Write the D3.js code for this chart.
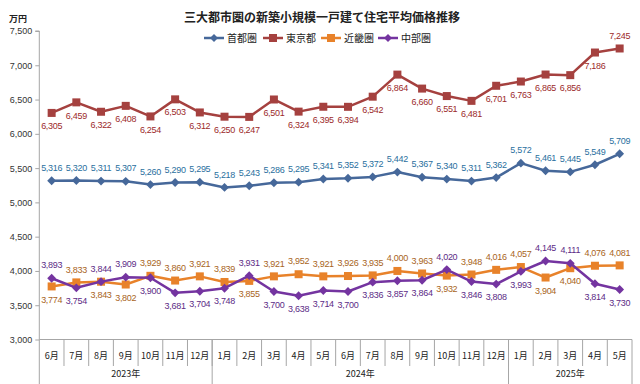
<!DOCTYPE html>
<html><head><meta charset="utf-8">
<script src="https://cdn.jsdelivr.net/npm/d3@7"></script>
<style>
body{margin:0;background:#fff;}
svg{display:block;font-family:"Noto Sans CJK JP","Noto Sans",sans-serif;}
</style></head>
<body>
<svg id="c" width="640" height="384"></svg>
<script>
const months = ["6月","7月","8月","9月","10月","11月","12月","1月","2月","3月","4月","5月","6月","7月","8月","9月","10月","11月","12月","1月","2月","3月","4月","5月"];
const years = [{label:"2023年", n:7},{label:"2024年", n:12},{label:"2025年", n:5}];
const yTicks = [3000,3500,4000,4500,5000,5500,6000,6500,7000,7500];
const shuto = [5316,5320,5311,5307,5260,5290,5295,5218,5243,5286,5295,5341,5352,5372,5442,5367,5340,5311,5362,5572,5461,5445,5549,5709];
const tokyo = [6305,6459,6322,6408,6254,6503,6312,6250,6247,6501,6324,6395,6394,6542,6864,6660,6551,6481,6701,6763,6865,6856,7186,7245];
const kinki = [3774,3833,3843,3802,3929,3860,3921,3839,3855,3921,3952,3921,3926,3935,4000,3963,3932,3948,4016,4057,3904,4040,4076,4081];
const chubu = [3893,3754,3844,3909,3900,3681,3704,3748,3931,3700,3638,3714,3700,3836,3857,3864,4020,3846,3808,3993,4145,4111,3814,3730];

const series = [
  {name:"首都圏", values:shuto, color:"#46689a", label:"#2a6f9e", marker:"diamond"},
  {name:"東京都", values:tokyo, color:"#a5413f", label:"#9c2a2a", marker:"square"},
  {name:"近畿圏", values:kinki, color:"#e8822a", label:"#a8641c", marker:"square"},
  {name:"中部圏", values:chubu, color:"#7434a0", label:"#5c2b86", marker:"diamond"}
];

(function(){
const svg = d3.select("#c");
const pL = 39.3, pR = 632, pT = 31, pB = 339.5;
const idx = months.map((m,i)=>i);
const x = d3.scaleBand().domain(idx).range([pL,pR]).paddingInner(0).paddingOuter(0);
const y = d3.scaleLinear().domain([3000,7500]).range([pB,pT]);
const cx = i => x(i) + x.bandwidth()/2;
const axisColor = "#a6a6a6";

svg.append("text").attr("x",322).attr("y",22).attr("text-anchor","middle")
  .attr("font-size",12).attr("font-weight","bold").attr("fill","#222")
  .text("三大都市圏の新築小規模一戸建て住宅平均価格推移");
svg.append("text").attr("x",18).attr("y",22).attr("text-anchor","middle")
  .attr("font-size",9).attr("font-weight","bold").attr("fill","#222").text("万円");

const ya = svg.append("g").attr("transform",`translate(${pL},0)`)
  .call(d3.axisLeft(y).tickValues(yTicks).tickSize(4).tickPadding(3).tickFormat(d3.format(",")));
ya.selectAll("text").attr("font-size",9).attr("fill","#333").attr("font-family","'Liberation Sans',sans-serif");
ya.selectAll("line").attr("stroke",axisColor);
ya.select(".domain").attr("stroke",axisColor).attr("d",`M-4,${pT}H0V${pB}`);

const xa = svg.append("g");
xa.append("line").attr("x1",pL).attr("x2",pR).attr("y1",pB).attr("y2",pB).attr("stroke",axisColor);
idx.forEach(i=>{
  if(i>0) xa.append("line").attr("x1",x(i)).attr("x2",x(i)).attr("y1",pB).attr("y2",366).attr("stroke",axisColor);
  xa.append("text").attr("x",cx(i)).attr("y",359).attr("text-anchor","middle")
    .attr("font-size",9).attr("fill","#222").text(months[i]);
});
let start = 0;
const bounds = [0];
years.forEach(yr=>{
  const s = start, e = start + yr.n;
  xa.append("text").attr("x",(x(s)+ (e<months.length? x(e): pR))/2).attr("y",377)
    .attr("text-anchor","middle").attr("font-size",9).attr("fill","#222").text(yr.label);
  start = e; bounds.push(e);
});
bounds.forEach(b=>{
  const xx = b<months.length ? x(b) : pR;
  xa.append("line").attr("x1",xx).attr("x2",xx).attr("y1",pB).attr("y2",384).attr("stroke",axisColor);
});

const line = d3.line().x((d,i)=>cx(i)).y(d=>y(d));
series.forEach(s=>{
  svg.append("path").datum(s.values).attr("d",line).attr("fill","none")
    .attr("stroke",s.color).attr("stroke-width",2.5).attr("stroke-linejoin","round");
  const g = svg.append("g");
  s.values.forEach((v,i)=>{
    if(s.marker==="square"){
      g.append("rect").attr("x",cx(i)-4).attr("y",y(v)-4).attr("width",8).attr("height",8).attr("fill",s.color);
    } else {
      g.append("path").attr("d",d3.symbol(d3.symbolDiamond2,50)()).attr("transform",`translate(${cx(i)},${y(v)})`).attr("fill",s.color);
    }
  });
});

function pos(si,i){
  const v = series[si].values[i];
  if(si===0) return -1;
  if(si===1) return i===tokyo.length-1 ? -1 : 1;
  const other = si===2 ? chubu[i] : kinki[i];
  return v>=other ? -1 : 1;
}
series.forEach((s,si)=>{
  s.values.forEach((v,i)=>{
    const d = pos(si,i);
    svg.append("text").attr("x",cx(i)).attr("y",y(v)+d*13).attr("dy","0.35em")
      .attr("text-anchor","middle").attr("font-size",9).attr("letter-spacing","-0.3")
      .attr("fill",s.label)
      .attr("font-family","'Liberation Sans',sans-serif")
      .text(d3.format(",")(v));
  });
});

const lg = svg.append("g");
const lx = [204, 263, 321, 378];
series.forEach((s,k)=>{
  const g = lg.append("g").attr("transform",`translate(${lx[k]},38)`);
  g.append("line").attr("x1",0).attr("x2",20).attr("stroke",s.color).attr("stroke-width",2.5);
  if(s.marker==="square") g.append("rect").attr("x",6).attr("y",-4).attr("width",8).attr("height",8).attr("fill",s.color);
  else g.append("path").attr("d",d3.symbol(d3.symbolDiamond2,40)()).attr("transform","translate(10,0)").attr("fill",s.color);
  g.append("text").attr("x",23).attr("dy","0.35em").attr("font-size",10).attr("fill","#222").text(s.name);
});
})();
</script>
</body></html>
